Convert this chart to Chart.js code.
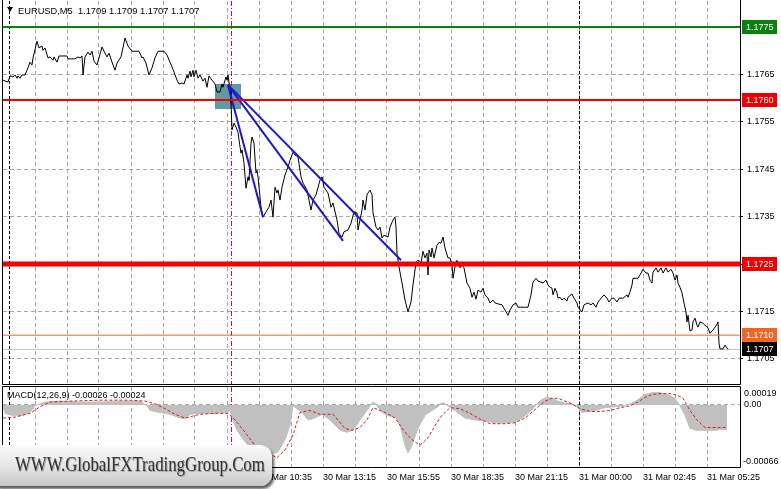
<!DOCTYPE html>
<html>
<head>
<meta charset="utf-8">
<script src="https://cdn.jsdelivr.net/npm/chart.js@4.4.1/dist/chart.umd.min.js"></script>
<style>
  body { margin: 0; width: 781px; height: 489px; background: #fff; position: relative; overflow: hidden; }
  canvas { position: absolute; left: 0; }
  #priceChart { top: 0; }
  #macdChart { top: 385px; }
  .watermark {
    position: absolute; left: -12px; top: 445px; width: 284px; height: 41px; border-radius: 12px;
    background: linear-gradient(#fbfbfb, #e4e4e4 55%, #c8c8c8);
    box-shadow: 2px 3px 3px rgba(0, 0, 0, .65);
  }
  .watermark span {
    position: absolute; left: 27px; top: 7px; white-space: nowrap;
    font: 21px "Liberation Serif", "DejaVu Serif", serif; color: #333;
    text-shadow: 1px 1px 1px #999; transform: scaleX(.8); transform-origin: left center;
  }
</style>
</head>
<body>
<canvas id="priceChart" width="781" height="386"></canvas>
<canvas id="macdChart" width="781" height="104"></canvas>
<div class="watermark"><span>WWW.GlobalFXTradingGroup.Com</span></div>
<script>
// header
const symbol = 'EURUSD,M5';
const ohlc = ['1.1709', '1.1709', '1.1707', '1.1707'];
const macdTitle = 'MACD(12,26,9) -0.00026 -0.00024';

// M5 bar index (0 = left edge) and close price
const bars = [
  0, 2.5, 3.5, 5, 6, 7, 7.5, 8.5, 9.5, 11,
  12.5, 13.5, 14.5, 15, 17, 18, 19.5, 20, 21, 22.5,
  23.5, 25, 25.5, 27, 28, 32, 32.5, 36, 37.5, 38.5,
  39.5, 40, 41, 42.5, 43.5, 44.5, 45.5, 47, 48, 49.5,
  51, 52, 53, 54.5, 56, 57, 59, 61, 62.5, 64.5,
  68, 69.5, 70, 71.5, 73, 74.5, 76, 77.5, 80.5, 82,
  84.5, 85.5, 87, 88, 89.5, 90.5, 92, 92.5, 93.5, 94,
  95, 95.5, 96.5, 97.5, 98.5, 100, 101, 102, 103, 104.5,
  106, 107, 108.5, 109.5, 110, 111.5, 112, 112.5, 113.5, 114,
  114.5, 115.5, 116.5, 117.5, 118, 119, 119.5, 120.5, 121.5, 122.5,
  123, 124, 124.5, 125.5, 126.5, 127, 127.5, 129, 130, 131.5,
  133, 134, 135, 136, 137, 137.5, 138.5, 139.5, 141, 142.5,
  143.5, 145, 146, 147.5, 149, 150, 152, 154, 155, 156.5,
  158.5, 159.5, 160.5, 162.5, 164, 165, 167, 168, 169.5, 170.5,
  172.5, 174, 175.5, 177, 177.5, 179.5, 180, 181, 182, 182.5,
  183.5, 184.5, 185, 186.5, 187.5, 188.5, 189.5, 190.5, 192.5, 193.5,
  195, 196, 196.5, 197, 198, 199.5, 201, 202.5, 204, 205,
  206.5, 207.5, 209, 210, 211, 212, 212.5, 213, 214, 214.5,
  215.5, 217, 218, 219, 220, 221, 222.5, 223.5, 224.5, 225,
  226, 227, 227.5, 228.5, 229.5, 230.5, 232, 233.5, 234.5, 235.5,
  236.5, 237.5, 239, 240, 241, 242.5, 243.5, 245, 246, 247.5,
  249.5, 251, 252.5, 253.5, 255, 256.5, 257.5, 262.5, 264, 265,
  266.5, 267.5, 269, 270, 271.5, 272.5, 273.5, 274.5, 275, 276,
  277, 277.5, 278.5, 279.5, 280.5, 282, 282.5, 284.5, 285.5, 287,
  287.5, 289.5, 290.5, 292.5, 294, 295, 296.5, 297.5, 299.5, 300.5,
  302, 303, 304.5, 305.5, 307, 308, 310, 312, 312.5, 313.5,
  314.5, 315, 317.5, 318.5, 320, 321.5, 322.5, 323.5, 324.5, 325,
  326.5, 327.5, 329, 330, 331.5, 332.5, 334, 335, 336, 337,
  337.5, 338.5, 339.5, 340.5, 341.5, 342, 342.5, 343.5, 344.5, 345,
  346, 347, 347.5, 348.5, 350, 351.5, 352.5, 353.5, 355, 357,
  357.5, 358, 358.5, 360, 361, 362, 362.5
];
const closes = [
  1.17638, 1.17634, 1.17647, 1.17645, 1.17649, 1.17642, 1.17647, 1.17642, 1.17649, 1.17649,
  1.17664, 1.17676, 1.17670, 1.17685, 1.17720, 1.17706, 1.17710, 1.17701, 1.17706, 1.17685,
  1.17687, 1.17680, 1.17687, 1.17676, 1.17689, 1.17689, 1.17683, 1.17683, 1.17687, 1.17685,
  1.17689, 1.17649, 1.17687, 1.17697, 1.17691, 1.17699, 1.17678, 1.17670, 1.17685, 1.17708,
  1.17695, 1.17687, 1.17695, 1.17676, 1.17659, 1.17674, 1.17687, 1.17727, 1.17710, 1.17699,
  1.17699, 1.17685, 1.17687, 1.17674, 1.17649, 1.17664, 1.17685, 1.17699, 1.17699, 1.17691,
  1.17666, 1.17655, 1.17638, 1.17630, 1.17632, 1.17630, 1.17649, 1.17642, 1.17657, 1.17645,
  1.17659, 1.17645, 1.17659, 1.17642, 1.17649, 1.17636, 1.17642, 1.17623, 1.17647, 1.17638,
  1.17630, 1.17613, 1.17613, 1.17630, 1.17623, 1.17645, 1.17638, 1.17649, 1.17617, 1.17590,
  1.17533, 1.17547, 1.17539, 1.17528, 1.17512, 1.17484, 1.17491, 1.17463, 1.17410, 1.17434,
  1.17427, 1.17505, 1.17518, 1.17505, 1.17442, 1.17448, 1.17434, 1.17370, 1.17349, 1.17360,
  1.17370, 1.17385, 1.17349, 1.17412, 1.17400, 1.17406, 1.17385, 1.17412, 1.17438, 1.17455,
  1.17469, 1.17486, 1.17480, 1.17476, 1.17434, 1.17421, 1.17406, 1.17364, 1.17385, 1.17396,
  1.17427, 1.17434, 1.17412, 1.17400, 1.17370, 1.17379, 1.17343, 1.17315, 1.17307, 1.17318,
  1.17322, 1.17336, 1.17360, 1.17358, 1.17322, 1.17364, 1.17385, 1.17364, 1.17396, 1.17400,
  1.17406, 1.17396, 1.17358, 1.17328, 1.17322, 1.17328, 1.17305, 1.17311, 1.17307, 1.17328,
  1.17343, 1.17349, 1.17328, 1.17273, 1.17244, 1.17210, 1.17174, 1.17149, 1.17170, 1.17206,
  1.17254, 1.17258, 1.17252, 1.17277, 1.17263, 1.17273, 1.17227, 1.17280, 1.17265, 1.17284,
  1.17263, 1.17290, 1.17296, 1.17294, 1.17307, 1.17284, 1.17263, 1.17263, 1.17248, 1.17220,
  1.17244, 1.17258, 1.17252, 1.17242, 1.17248, 1.17242, 1.17210, 1.17199, 1.17180, 1.17191,
  1.17176, 1.17195, 1.17191, 1.17199, 1.17185, 1.17178, 1.17168, 1.17174, 1.17168, 1.17166,
  1.17164, 1.17153, 1.17142, 1.17153, 1.17164, 1.17168, 1.17159, 1.17159, 1.17185, 1.17212,
  1.17220, 1.17214, 1.17212, 1.17210, 1.17216, 1.17206, 1.17201, 1.17199, 1.17185, 1.17199,
  1.17189, 1.17178, 1.17180, 1.17174, 1.17178, 1.17172, 1.17180, 1.17187, 1.17178, 1.17168,
  1.17159, 1.17149, 1.17164, 1.17168, 1.17164, 1.17168, 1.17159, 1.17170, 1.17180, 1.17185,
  1.17178, 1.17170, 1.17178, 1.17178, 1.17170, 1.17178, 1.17178, 1.17185, 1.17180, 1.17191,
  1.17206, 1.17220, 1.17220, 1.17227, 1.17239, 1.17231, 1.17231, 1.17216, 1.17210, 1.17233,
  1.17242, 1.17233, 1.17242, 1.17231, 1.17242, 1.17233, 1.17239, 1.17231, 1.17216, 1.17227,
  1.17210, 1.17201, 1.17189, 1.17168, 1.17149, 1.17128, 1.17142, 1.17109, 1.17111, 1.17128,
  1.17136, 1.17121, 1.17117, 1.17128, 1.17125, 1.17119, 1.17115, 1.17104, 1.17111, 1.17123,
  1.17128, 1.17083, 1.17071, 1.17071, 1.17079, 1.17073, 1.17070
];

// horizontal levels and current bid
const levelValues = [1.1775, 1.17596, 1.1725, 1.1710];
const bidPrice = 1.1707;

// trend lines fanning out from one anchor
const trendStart = [112.5, 1.17628];
const trendEndBars = [130, 170, 199];
const trendEndPrices = [1.17349, 1.17299, 1.17258];

// shaded box (bars, prices)
const boxBars = [106, 119];
const boxPrices = [1.17630, 1.17577];

// vertical markers
const daySeparators = [3, 288];
const eventBar = 114;

// axes
const priceTicks = [1.1705, 1.1715, 1.1725, 1.1735, 1.1745, 1.1755, 1.1765];
const timeTickBars = [128, 160, 192, 224, 256, 288, 320, 352];
const timeTickLabels = ['30 Mar 10:35', '30 Mar 13:15', '30 Mar 15:55', '30 Mar 18:35',
                        '30 Mar 21:15', '31 Mar 00:00', '31 Mar 02:45', '31 Mar 05:25'];

// MACD histogram and signal
const histBars = [
  0, 1, 4.5, 9.5, 13.5, 16, 21, 28.5, 38.5, 48.5,
  58.5, 68.5, 72, 73.5, 78.5, 83.5, 88.5, 91, 93.5, 98.5,
  106, 112.5, 113.5, 115, 117, 119.5, 122.5, 126, 129.5, 133.5,
  137.5, 141, 143.5, 145, 147, 149.5, 152.5, 156, 159.5, 163.5,
  168.5, 172, 175, 178.5, 182, 183.5, 185, 186.5, 188.5, 191,
  193.5, 196.5, 198.5, 201, 202.5, 204.5, 207.5, 211, 214.5, 217.5,
  219, 220.5, 222.5, 226, 231, 236, 241, 246, 251, 256,
  259.5, 262.5, 265, 267, 269.5, 272, 274.5, 277.5, 281, 284.5,
  287.5, 289.5, 292.5, 296, 301, 306, 311, 313.5, 317, 321,
  324.5, 328.5, 332.5, 336, 338.5, 341, 343.5, 347, 351, 356,
  359.5, 362
];
const histVals = [
  -0.00001, -0.00009, -0.00011, -0.00011, -0.00008, -0.00001, 0.00003, 0.00004, 0.00003, 0.00003,
  0.00004, 0.00004, -0.00001, -0.00006, -0.00008, -0.00010, -0.00014, -0.00015, -0.00010, -0.00009,
  -0.00009, -0.00008, -0.00006, -0.00016, -0.00027, -0.00035, -0.00043, -0.00048, -0.00051, -0.00053,
  -0.00050, -0.00037, -0.00022, -0.00001, -0.00004, -0.00008, -0.00016, -0.00014, -0.00010, -0.00016,
  -0.00027, -0.00029, -0.00027, -0.00016, -0.00006, -0.00001, 0.00003, 0.00001, -0.00006, -0.00010,
  -0.00012, -0.00014, -0.00022, -0.00043, -0.00051, -0.00043, -0.00025, -0.00011, -0.00006, -0.00002,
  0.00002, 0.00002, -0.00001, -0.00006, -0.00014, -0.00016, -0.00017, -0.00019, -0.00019, -0.00018,
  -0.00014, -0.00009, -0.00004, 0.00001, 0.00006, 0.00008, 0.00007, 0.00004, 0.00002, 0.00001,
  -0.00003, -0.00008, -0.00007, -0.00006, -0.00003, -0.00002, -0.00001, 0.00001, 0.00005, 0.00011,
  0.00013, 0.00013, 0.00011, 0.00007, -0.00001, -0.00011, -0.00025, -0.00027, -0.00027, -0.00027,
  -0.00026, -0.00026
];
const signalBars = [
  0, 6, 13.5, 18.5, 23.5, 33.5, 48.5, 63.5, 71, 76,
  81, 86, 91, 98.5, 106, 112.5, 116, 121, 126, 131,
  137, 141, 145, 148.5, 153.5, 158.5, 165, 171, 174.5, 178.5,
  182, 185, 187.5, 191, 196, 201, 204.5, 208.5, 212.5, 216,
  219.5, 223.5, 228.5, 233.5, 238.5, 243.5, 251, 256, 261, 266,
  271, 274.5, 277.5, 281, 284.5, 288.5, 293.5, 298.5, 303.5, 308.5,
  313.5, 317.5, 321, 324.5, 328.5, 333.5, 337.5, 340, 343.5, 347,
  351, 356, 362
];
const signalVals = [
  -0.00014, -0.00013, -0.00009, -0.00002, 0.00003, 0.00004, 0.00005, 0.00005, 0.00004, 0.00001,
  -0.00004, -0.00010, -0.00014, -0.00010, -0.00009, -0.00009, -0.00016, -0.00029, -0.00043, -0.00050,
  -0.00056, -0.00048, -0.00032, -0.00008, -0.00006, -0.00010, -0.00010, -0.00025, -0.00027, -0.00024,
  -0.00016, -0.00003, -0.00005, -0.00008, -0.00014, -0.00029, -0.00037, -0.00043, -0.00035, -0.00022,
  -0.00011, -0.00003, -0.00004, -0.00009, -0.00015, -0.00020, -0.00020, -0.00019, -0.00014, -0.00005,
  0.00004, 0.00007, 0.00007, 0.00004, 0.00001, -0.00004, -0.00007, -0.00007, -0.00006, -0.00003,
  -0.00001, 0.00003, 0.00008, 0.00011, 0.00012, 0.00012, 0.00010, 0.00007, -0.00006, -0.00016,
  -0.00024, -0.00024, -0.00024
];
const macdMax = 0.00019;
const macdMin = -0.00066;

// ---- styles / scale setup ----
const xMax = 368.5;
const priceMin = 1.16997;
const priceMax = 1.17805;
const gridColor = '#a8a8a8';
const levelColors = ['#0b800b', '#f00000', '#f00000', '#f26522'];
const levelWidths = [2, 2, 5, 1];

Chart.defaults.font.family = "'Liberation Sans', Arial, sans-serif";
Chart.defaults.font.size = 9;
Chart.defaults.color = '#000';

const keepGridTicks = s => { s.ticks = s.ticks.filter(t => t.value > 0 && t.value < 360); };

function drawMarkers(chart) {
    const { ctx, chartArea: a, scales: { x } } = chart;
    ctx.save();
    ctx.lineWidth = 1;
    ctx.strokeStyle = '#000';
    ctx.setLineDash([3, 2]);
    daySeparators.forEach(b => {
        const px = Math.round(x.getPixelForValue(b)) + 0.5;
        ctx.beginPath(); ctx.moveTo(px, a.top); ctx.lineTo(px, a.bottom); ctx.stroke();
    });
    ctx.strokeStyle = '#c8143c';
    ctx.setLineDash([5, 2, 1, 2]);
    const ex = Math.round(x.getPixelForValue(eventBar)) + 0.5;
    ctx.beginPath(); ctx.moveTo(ex, a.top); ctx.lineTo(ex, a.bottom); ctx.stroke();
    ctx.restore();
}

// left, right and bottom edges (and top when asked)
function drawFrame(chart, withTop) {
    const { ctx, chartArea: a } = chart;
    const l = a.left - 0.5, r = a.right + 0.5, t = a.top - 0.5, b = a.bottom + 0.5;
    ctx.save();
    ctx.strokeStyle = '#000';
    ctx.lineWidth = 1;
    ctx.beginPath();
    ctx.moveTo(l, withTop ? t : 0); ctx.lineTo(l, b); ctx.lineTo(r, b); ctx.lineTo(r, withTop ? t : 0);
    if (withTop) ctx.lineTo(l, t);
    ctx.stroke();
    ctx.restore();
}

const mainOverlay = {
    id: 'mainOverlay',
    beforeDatasetsDraw(chart) {
        const { ctx, scales: { x, y } } = chart;
        const x1 = x.getPixelForValue(boxBars[0]), x2 = x.getPixelForValue(boxBars[1]);
        const y1 = y.getPixelForValue(boxPrices[0]), y2 = y.getPixelForValue(boxPrices[1]);
        ctx.save();
        ctx.fillStyle = '#5e9aa0';
        ctx.fillRect(x1, y1, x2 - x1, y2 - y1);
        ctx.restore();
        drawMarkers(chart);
    },
    afterDraw(chart) {
        const { ctx, chartArea: a, scales: { y } } = chart;
        drawFrame(chart, false);
        ctx.save();
        ctx.font = "9px 'Liberation Sans', Arial, sans-serif";
        ctx.textBaseline = 'middle';
        const vals = levelValues.concat([bidPrice]);
        const fills = levelColors.concat(['#000']);
        vals.forEach((v, i) => {
            const py = Math.round(y.getPixelForValue(v));
            ctx.fillStyle = fills[i];
            ctx.fillRect(a.right + 2, py - 7, 35, 14);
            ctx.fillStyle = '#fff';
            ctx.fillText(v.toFixed(4), a.right + 6, py + 0.5);
        });
        // header
        ctx.fillStyle = '#000';
        ctx.beginPath();
        ctx.moveTo(7, 7); ctx.lineTo(13, 7); ctx.lineTo(10, 12); ctx.closePath(); ctx.fill();
        ctx.font = "9.3px 'Liberation Sans', Arial, sans-serif";
        ctx.fillText(symbol + '  ' + ohlc.join(' '), 18, 11);
        ctx.restore();
    }
};

const macdOverlay = {
    id: 'macdOverlay',
    beforeDatasetsDraw(chart) { drawMarkers(chart); },
    afterDraw(chart) {
        const { ctx, chartArea: a, scales: { y } } = chart;
        drawFrame(chart, true);
        ctx.save();
        ctx.font = "9px 'Liberation Sans', Arial, sans-serif";
        ctx.textBaseline = 'middle';
        ctx.fillStyle = '#000';
        ctx.fillText(macdTitle, 7, 11);
        ctx.fillText(macdMax.toFixed(5), a.right + 4, y.getPixelForValue(macdMax) + 7);
        ctx.fillText('0.00', a.right + 4, y.getPixelForValue(0));
        ctx.fillText(macdMin.toFixed(5), a.right + 3, y.getPixelForValue(macdMin) - 5);
        ctx.restore();
    }
};

const levelSets = levelValues.map((v, i) => ({
    data: [{ x: 0, y: v }, { x: xMax, y: v }],
    borderColor: levelColors[i], borderWidth: levelWidths[i], order: 0
}));
const bidSet = {
    data: [{ x: 0, y: bidPrice }, { x: xMax, y: bidPrice }],
    borderColor: '#c0c0c0', borderWidth: 1, order: 4
};
const trendSets = trendEndBars.map((b, i) => ({
    data: [{ x: trendStart[0], y: trendStart[1] }, { x: b, y: trendEndPrices[i] }],
    borderColor: '#1a1acb', borderWidth: 2, order: 1
}));
const priceSet = {
    data: bars.map((b, i) => ({ x: b, y: closes[i] })),
    borderColor: '#000', borderWidth: 1, order: 3
};

new Chart(document.getElementById('priceChart'), {
    type: 'line',
    data: { datasets: [...levelSets, ...trendSets, priceSet, bidSet] },
    options: {
        responsive: false,
        animation: false,
        events: [],
        layout: { padding: { left: 3, top: 1, right: 0, bottom: 0 } },
        plugins: { legend: { display: false }, tooltip: { enabled: false } },
        elements: { point: { radius: 0 }, line: { tension: 0 } },
        scales: {
            x: {
                type: 'linear', min: 0, max: xMax,
                ticks: { display: false, stepSize: 16 },
                grid: { color: gridColor, drawTicks: false },
                border: { display: false, dash: [4, 3] },
                afterBuildTicks: keepGridTicks,
                afterFit: s => { s.height = 2; s.paddingLeft = 0; s.paddingRight = 0; }
            },
            y: {
                position: 'right', min: priceMin, max: priceMax,
                afterBuildTicks: s => { s.ticks = priceTicks.map(v => ({ value: v })); },
                ticks: { padding: 4, callback: v => v.toFixed(4) },
                grid: { color: gridColor, tickLength: 3, tickColor: '#000', tickBorderDash: [] },
                border: { display: false, dash: [4, 3] },
                afterFit: s => { s.width = 41; s.paddingTop = 0; s.paddingBottom = 0; }
            }
        }
    },
    plugins: [mainOverlay]
});

new Chart(document.getElementById('macdChart'), {
    type: 'line',
    data: {
        datasets: [
            {
                data: signalBars.map((b, i) => ({ x: b, y: signalVals[i] })),
                borderColor: '#d21e1e', borderWidth: 1, borderDash: [3, 2], order: 0
            },
            {
                data: histBars.map((b, i) => ({ x: b, y: histVals[i] })),
                borderColor: '#c0c0c0', backgroundColor: '#c0c0c0', borderWidth: 1,
                fill: 'origin', order: 1
            }
        ]
    },
    options: {
        responsive: false,
        animation: false,
        events: [],
        layout: { padding: { left: 3, top: 2, right: 0, bottom: 0 } },
        plugins: { legend: { display: false }, tooltip: { enabled: false } },
        elements: { point: { radius: 0 }, line: { tension: 0 } },
        scales: {
            x: {
                type: 'linear', min: 0, max: xMax,
                ticks: {
                    stepSize: 16, autoSkip: false, maxRotation: 0, minRotation: 0,
                    align: 'start', padding: 5,
                    callback: v => { const i = timeTickBars.indexOf(v); return i < 0 ? '' : timeTickLabels[i]; }
                },
                grid: { color: gridColor, drawTicks: false },
                border: { display: false, dash: [4, 3] },
                afterBuildTicks: keepGridTicks,
                afterFit: s => { s.height = 22; s.paddingLeft = 0; s.paddingRight = 0; }
            },
            y: {
                position: 'right', min: macdMin, max: macdMax,
                afterBuildTicks: s => { s.ticks = [{ value: 0 }]; },
                ticks: { display: false },
                grid: { color: gridColor, drawTicks: false },
                border: { display: false, dash: [4, 3] },
                afterFit: s => { s.width = 41; s.paddingTop = 0; s.paddingBottom = 0; }
            }
        }
    },
    plugins: [macdOverlay]
});
</script>
</body>
</html>
